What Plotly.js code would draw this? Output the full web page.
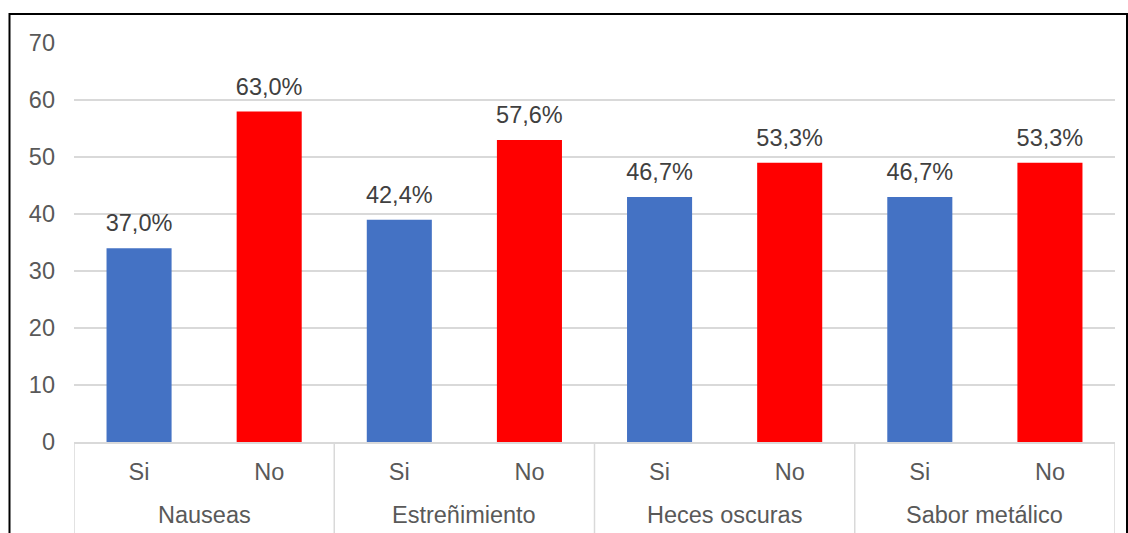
<!DOCTYPE html>
<html>
<head>
<meta charset="utf-8">
<script src="https://cdn.plot.ly/plotly-3.0.1.min.js"></script>
<style>html,body{margin:0;padding:0;background:#fff}#chart{width:1128px;height:533px}</style>
</head>
<body>
<div id="chart"></div>
<script>
const groups = ["Nauseas", "Nauseas", "Estreñimiento", "Estreñimiento", "Heces oscuras", "Heces oscuras", "Sabor metálico", "Sabor metálico"];
const answers = ["Si", "No", "Si", "No", "Si", "No", "Si", "No"];
const counts = [34, 58, 39, 53, 43, 49, 43, 49];
const percentLabels = ["37,0%", "63,0%", "42,4%", "57,6%", "46,7%", "53,3%", "46,7%", "53,3%"];
const colorSi = "#4472C4";
const colorNo = "#FF0000";
const yTicks = [0, 10, 20, 30, 40, 50, 60, 70];

const idx = answers.map((_, i) => i);
const barColors = answers.map(a => a === "Si" ? colorSi : colorNo);
const FONT = "Liberation Sans, Arial, sans-serif";

const bars = {
  type: "bar",
  x: idx,
  y: counts,
  width: 0.5,
  marker: {color: barColors, line: {width: 0}},
  hoverinfo: "skip",
  showlegend: false
};
const labels = {
  type: "scatter",
  mode: "markers+text",
  x: idx,
  y: counts,
  text: percentLabels,
  textposition: "top center",
  textfont: {family: FONT, size: 23.5, color: "#404040"},
  marker: {size: 16, color: "rgba(0,0,0,0)"},
  hoverinfo: "skip",
  showlegend: false,
  cliponaxis: false
};

const px2x = p => (p - 74) / 1041;
const px2y = p => (442 - p) / 399;

// group spans from the data
const spans = [];
groups.forEach((g, i) => {
  if (!spans.length || spans[spans.length - 1].name !== g) spans.push({name: g, start: i, end: i});
  else spans[spans.length - 1].end = i;
});

const shapes = [{
  type: "rect", xref: "paper", yref: "paper",
  x0: px2x(9.5), x1: px2x(1127), y0: px2y(560), y1: px2y(14),
  line: {color: "#000000", width: 2}, fillcolor: "rgba(0,0,0,0)", layer: "above"
}];
const dividerXs = [spans[0].start - 0.5].concat(spans.map(s => s.end + 0.5));
dividerXs.forEach(xv => shapes.push({
  type: "line", xref: "x", yref: "paper",
  x0: xv, x1: xv, y0: 0, y1: px2y(545),
  line: {color: "#D9D9D9", width: 1.5}
}));

const annotations = spans.map(s => ({
  xref: "x", yref: "paper",
  x: (s.start + s.end) / 2, y: px2y(515),
  text: s.name, showarrow: false,
  xanchor: "center", yanchor: "middle",
  font: {family: FONT, size: 23.5, color: "#595959"}
}));

const layout = {
  width: 1128, height: 533,
  margin: {l: 74, r: 13, t: 43, b: 91},
  paper_bgcolor: "#ffffff",
  plot_bgcolor: "#ffffff",
  font: {family: FONT, size: 23.5, color: "#595959"},
  xaxis: {
    range: [-0.5, idx.length - 0.5],
    tickvals: idx,
    ticktext: answers,
    showgrid: false,
    zeroline: false,
    showline: true,
    linecolor: "#D9D9D9",
    linewidth: 1.5,
    ticks: "",
    ticklabelstandoff: 8,
    tickfont: {family: FONT, size: 23.5, color: "#595959"}
  },
  yaxis: {
    range: [0, 70],
    tickvals: yTicks,
    ticktext: yTicks.map(String),
    showgrid: true,
    gridcolor: "#D9D9D9",
    gridwidth: 1.5,
    zeroline: false,
    showline: false,
    ticks: "",
    ticklabelstandoff: 18,
    tickfont: {family: FONT, size: 23.5, color: "#595959"}
  },
  shapes: shapes,
  annotations: annotations
};

Plotly.newPlot("chart", [bars, labels], layout, {displayModeBar: false, staticPlot: true});
</script>
</body>
</html>
